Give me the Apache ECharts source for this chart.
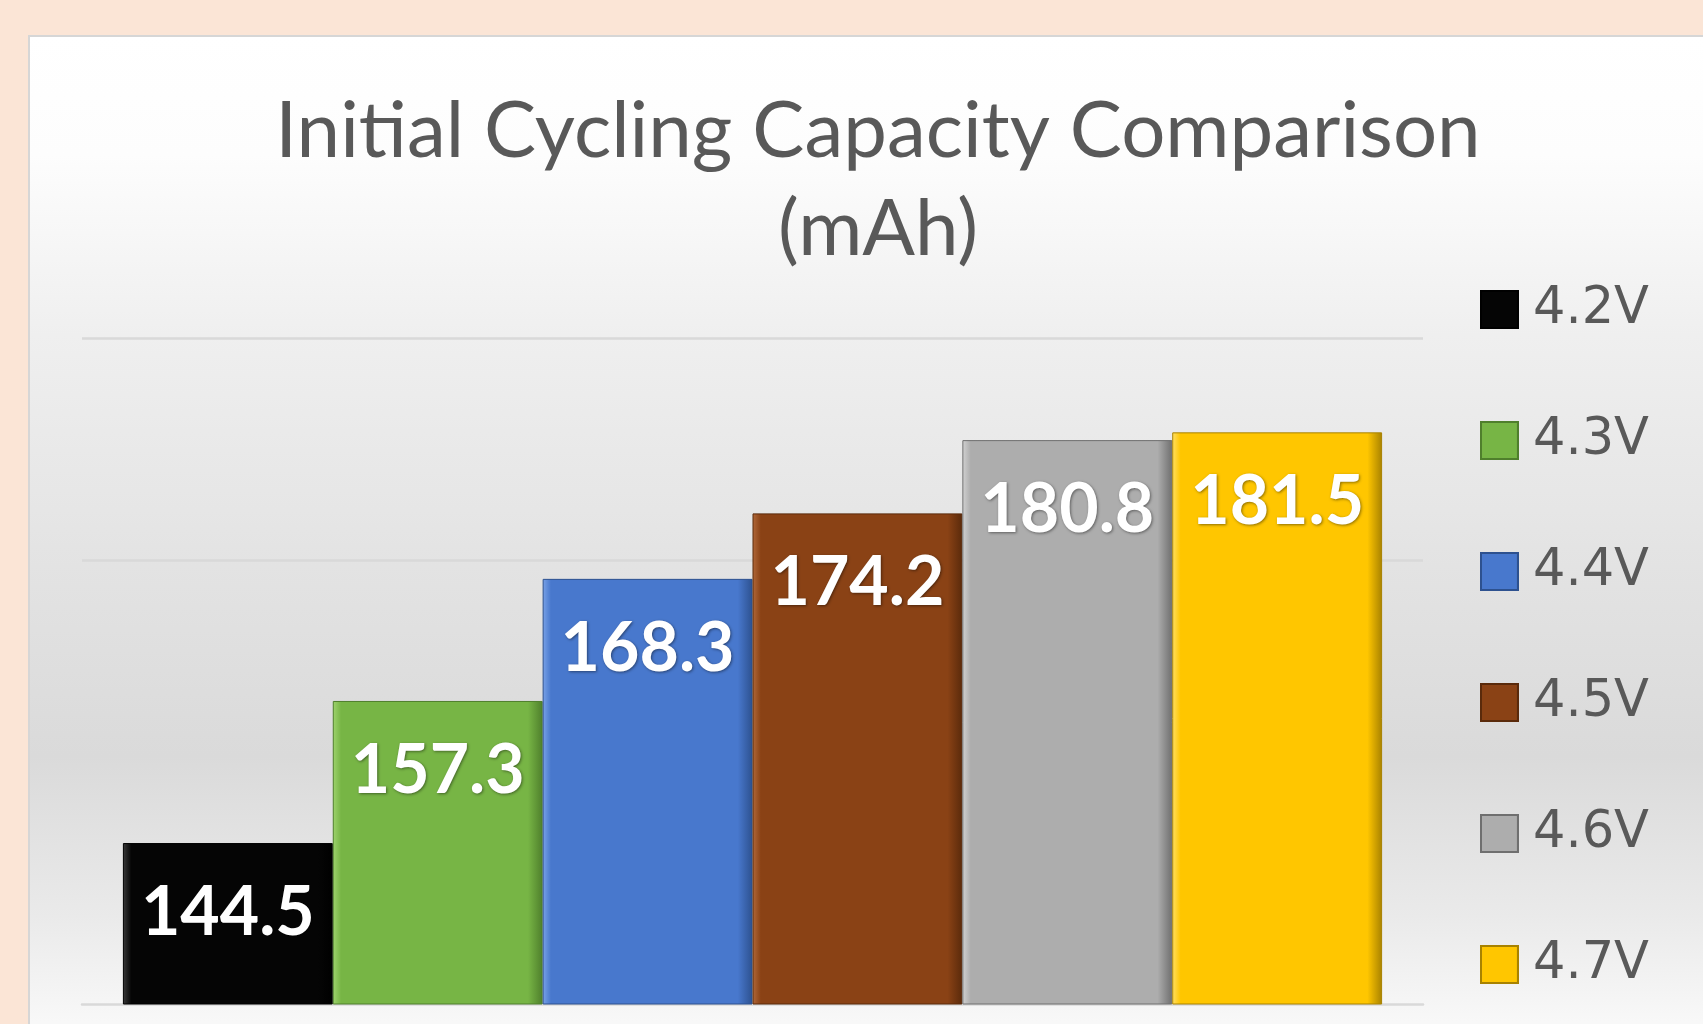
<!DOCTYPE html>
<html>
<head>
<meta charset="utf-8">
<script src="https://cdn.jsdelivr.net/npm/echarts@6/dist/echarts.min.js"></script>
<style>
html,body{margin:0;padding:0;background:#FBE5D6;}
#chart{width:1703px;height:1024px;}
</style>
</head>
<body>
<div id="chart"></div>
<script>
// ---- data ----
const seriesNames = ['4.2V', '4.3V', '4.4V', '4.5V', '4.6V', '4.7V'];
const capacities = [144.5, 157.3, 168.3, 174.2, 180.8, 181.5];
const gridlineValues = [170, 190];
const axisMin = 130;
const axisMax = 190;
const titleText = 'Initial Cycling Capacity Comparison\n(mAh)';

// ---- styles ----
const baseColors = ['#050505', '#77B545', '#4878CD', '#8A4215', '#ADADAD', '#FFC600'];
const lightColors = ['#3a3a3a', '#9fd46e', '#7aa3e8', '#b2693a', '#d2d2d2', '#ffe066'];
const darkColors = ['#000000', '#4f7f2c', '#2d518f', '#5a2a0b', '#6f6f6f', '#a88200'];

const chart = echarts.init(document.getElementById('chart'));

function barColor(i) {
  return new echarts.graphic.LinearGradient(0, 0, 1, 0, [
    { offset: 0, color: lightColors[i] },
    { offset: 0.04, color: baseColors[i] },
    { offset: 0.93, color: baseColors[i] },
    { offset: 1, color: darkColors[i] }
  ]);
}

const series = seriesNames.map((name, i) => ({
  name: name,
  type: 'bar',
  z: 3,
  barGap: '0%',
  barCategoryGap: '6.1%',
  data: [capacities[i]],
  itemStyle: {
    color: barColor(i),
    borderColor: darkColors[i],
    borderWidth: 1
  },
  label: {
    show: true,
    position: 'insideTop',
    distance: 36,
    formatter: '{c}',
    color: '#ffffff',
    fontFamily: 'Lato',
    fontWeight: 'bold',
    fontSize: 68,
    textShadowColor: 'rgba(0,0,0,0.45)',
    textShadowBlur: 3,
    textShadowOffsetX: 1,
    textShadowOffsetY: 1
  }
}));

// gridlines drawn behind the bars by a separate, empty-looking line series
series.push({
  name: 'gridlines',
  type: 'line',
  z: 1,
  data: [],
  silent: true,
  markLine: {
    z: 1,
    silent: true,
    symbol: 'none',
    label: { show: false },
    lineStyle: { color: '#D9D9D9', width: 2.5, type: 'solid' },
    data: gridlineValues.map(v => ({ yAxis: v }))
  }
});

chart.setOption({
  backgroundColor: '#FBE5D6',
  animation: false,
  graphic: [{
    type: 'rect',
    z: -10,
    shape: { x: 29, y: 36, width: 1700, height: 1000 },
    style: {
      fill: new echarts.graphic.LinearGradient(0, 0, 0, 1, [
        { offset: 0, color: '#FFFFFF' },
        { offset: 0.12, color: '#FDFDFD' },
        { offset: 0.3, color: '#EFEFEF' },
        { offset: 0.55, color: '#E2E2E2' },
        { offset: 0.72, color: '#DADADA' },
        { offset: 0.88, color: '#EAEAEA' },
        { offset: 1, color: '#FAFAFA' }
      ]),
      stroke: '#D6D6D6',
      lineWidth: 2
    }
  }],
  title: {
    text: titleText,
    left: 873,
    top: 78,
    textAlign: 'center',
    textStyle: {
      fontFamily: 'Lato',
      fontWeight: 'normal',
      fontSize: 78,
      lineHeight: 98,
      color: '#595959',
      align: 'center'
    }
  },
  legend: {
    orient: 'vertical',
    left: 1475,
    top: 279,
    itemWidth: 37,
    itemHeight: 37,
    itemGap: 80,
    icon: 'rect',
    data: seriesNames,
    textStyle: {
      fontFamily: 'DejaVu Sans',
      fontSize: 51,
      color: '#595959',
      padding: [0, 0, 0, 10]
    }
  },
  grid: { left: 82, right: 280, top: 338, bottom: 20 },
  xAxis: {
    type: 'category',
    data: [''],
    axisTick: { show: false },
    axisLabel: { show: false },
    axisLine: { show: true, lineStyle: { color: '#D9D9D9', width: 2.5 } }
  },
  yAxis: {
    type: 'value',
    min: axisMin,
    max: axisMax,
    axisLabel: { show: false },
    axisLine: { show: false },
    axisTick: { show: false },
    splitLine: { show: false }
  },
  series: series
});
</script>
</body>
</html>
